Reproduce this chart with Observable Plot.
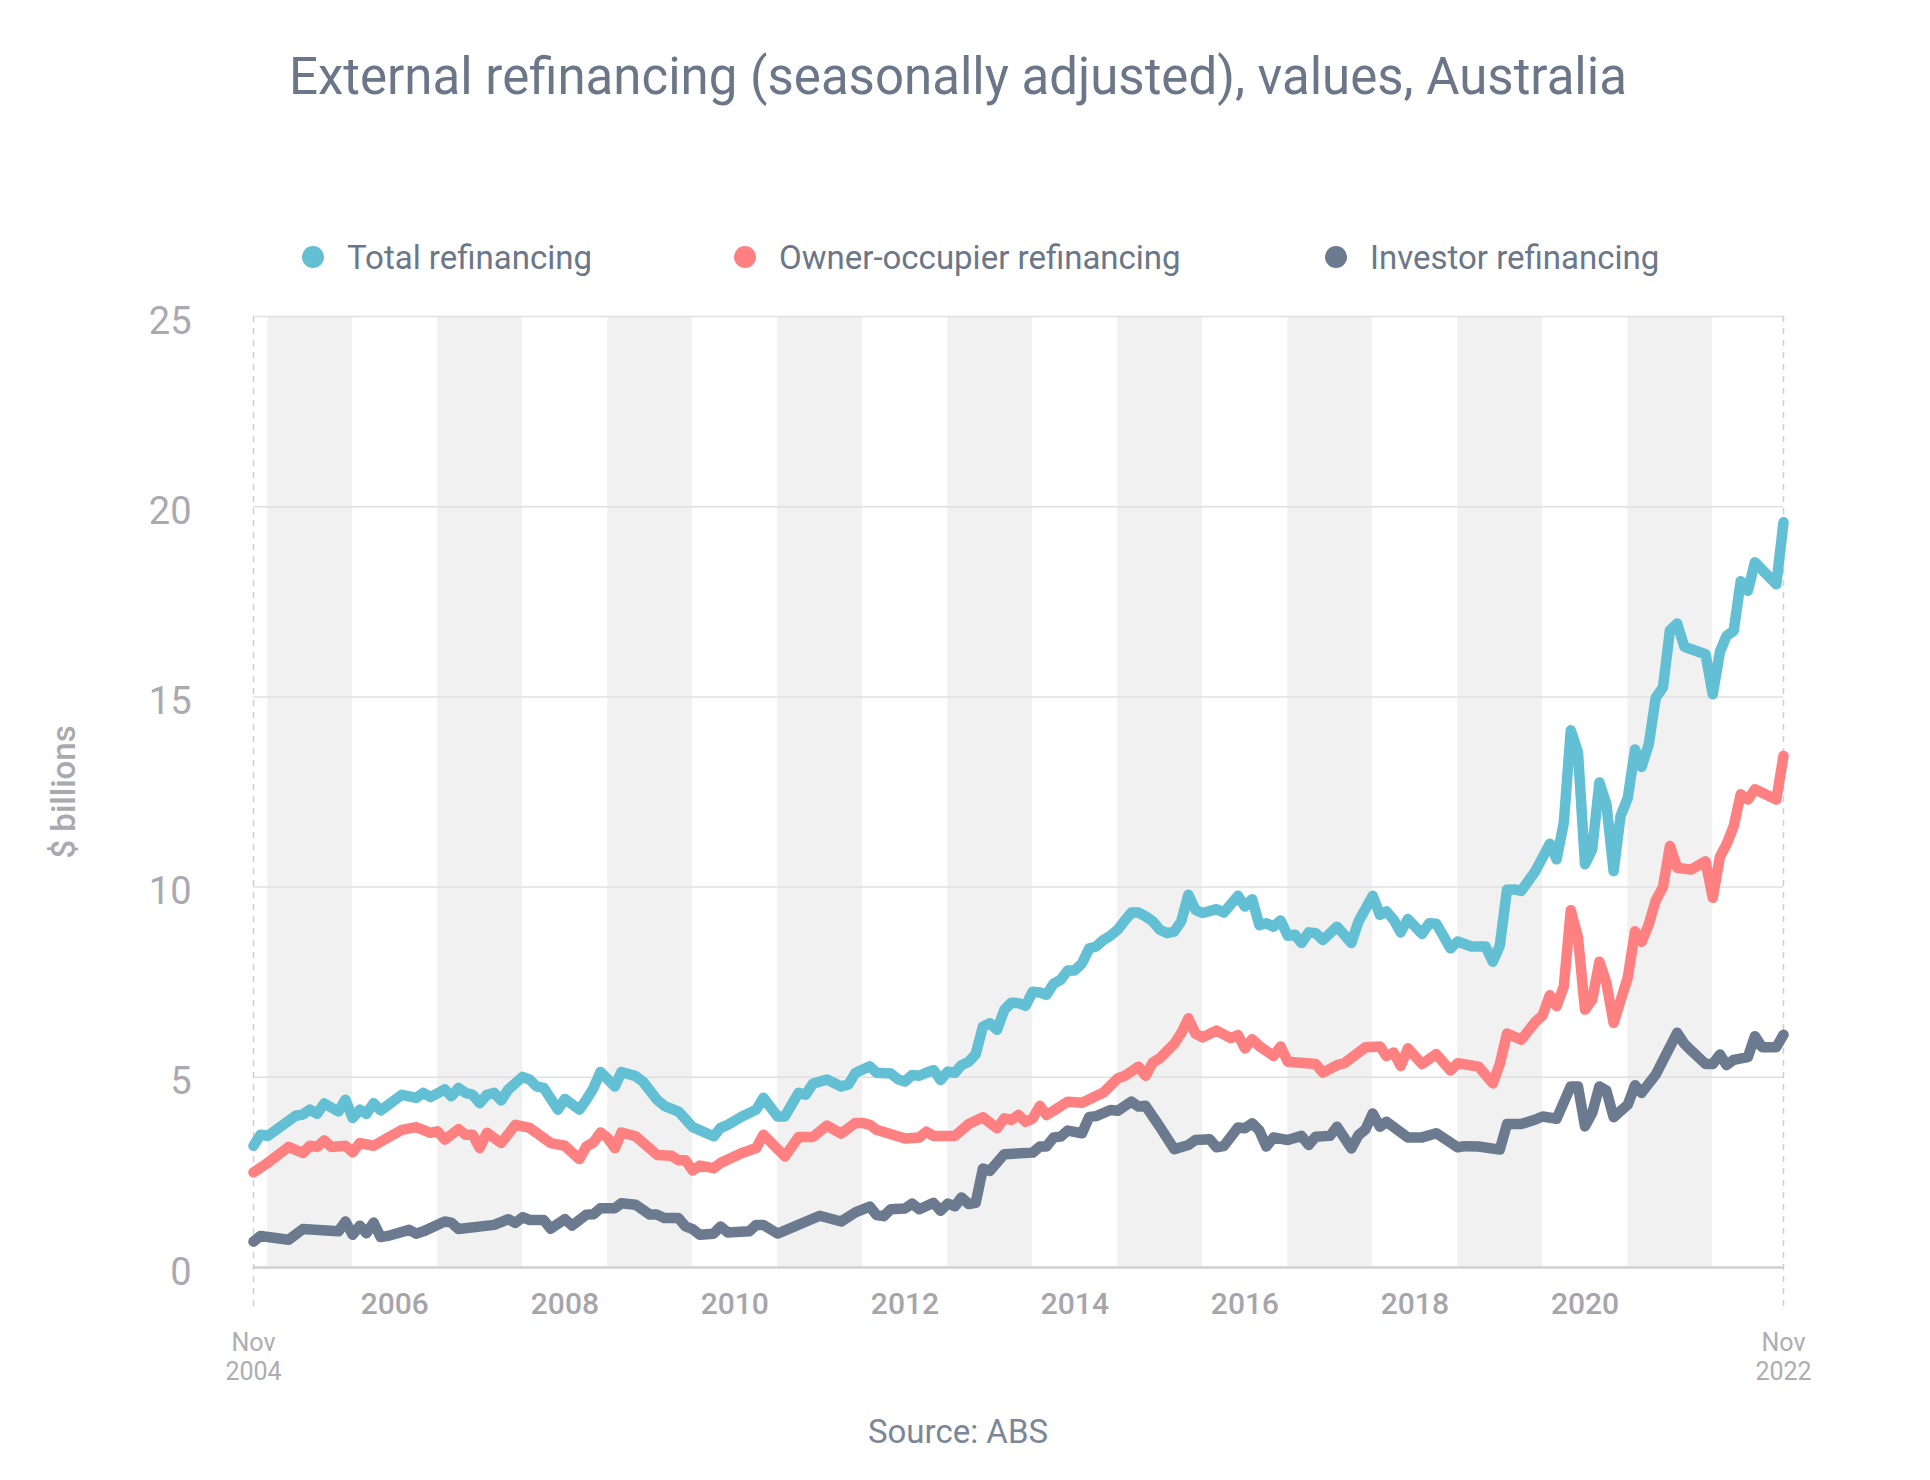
<!DOCTYPE html>
<html>
<head>
<meta charset="utf-8">
<script src="https://cdn.jsdelivr.net/npm/d3@7"></script>
<script src="https://cdn.jsdelivr.net/npm/@observablehq/plot@0.6"></script>
<style>
  body { margin: 0; background: #ffffff; font-family: Roboto, "Noto Sans", sans-serif; }
  #wrap { position: relative; width: 1930px; height: 1480px; overflow: hidden; }
  #title { position: absolute; left: 0; top: 51px; width: 1916px; text-align: center;
           font-size: 51px; line-height: 51px; color: #6b7789; }
  .leg { position: absolute; top: 239px; height: 36px; display: flex; align-items: center;
         font-size: 33px; color: #6b7789; white-space: nowrap; }
  .dot { width: 22px; height: 22px; border-radius: 50%; margin-right: 23px; flex: none; }
  #chart { position: absolute; left: 0; top: 280px; }
  #source { position: absolute; left: 0; top: 1415px; width: 1916px; text-align: center;
            font-size: 33px; line-height: 33px; color: #7b8797; }
</style>
</head>
<body>
<div id="wrap">
  <div id="title"></div>
  <div id="legend"></div>
  <div id="chart"></div>
  <div id="source"></div>
</div>
<script>
// ---------------- data ($ billions) ----------------
const titleText = "External refinancing (seasonally adjusted), values, Australia";
const sourceText = "Source: ABS";
const yAxisLabel = "$ billions";
const seriesNames = ["Total refinancing", "Owner-occupier refinancing", "Investor refinancing"];
const seriesColors = ["#62bfd4", "#ff8080", "#6b7a8f"];
const legendLeft = [302, 734, 1325];

const yTicks = [0, 5, 10, 15, 20, 25];
const yearLabels = [2006, 2008, 2010, 2012, 2014, 2016, 2018, 2020];
const shadedYears = [2005, 2007, 2009, 2011, 2013, 2015, 2017, 2019, 2021];
const axisEnds = ["2004-11", "2022-11"];
const endLabels = ["Nov\n2004", "Nov\n2022"];

const total = [
["2004-11",3.2],["2004-12",3.49],["2005-01",3.46],["2005-05",3.99],["2005-06",4.02],["2005-07",4.15],["2005-08",4.04],["2005-09",4.31],["2005-11",4.1],["2005-12",4.41],
["2006-01",3.93],["2006-02",4.15],["2006-03",4.04],["2006-04",4.32],["2006-05",4.13],["2006-08",4.54],["2006-10",4.46],["2006-11",4.59],["2006-12",4.48],
["2007-02",4.68],["2007-03",4.5],["2007-04",4.72],["2007-05",4.59],["2007-06",4.54],["2007-07",4.32],["2007-08",4.54],["2007-09",4.59],["2007-10",4.39],["2007-11",4.68],
["2008-01",5.01],["2008-02",4.94],["2008-03",4.76],["2008-04",4.72],["2008-06",4.15],["2008-07",4.43],["2008-09",4.15],["2008-10",4.41],["2008-11",4.72],["2008-12",5.14],
["2009-02",4.76],["2009-03",5.14],["2009-05",5.03],["2009-06",4.89],["2009-08",4.41],["2009-09",4.25],["2009-11",4.1],
["2010-01",3.69],["2010-04",3.45],["2010-05",3.67],["2010-06",3.75],["2010-08",3.97],["2010-10",4.15],["2010-11",4.46],
["2011-01",3.97],["2011-02",3.97],["2011-04",4.59],["2011-05",4.54],["2011-06",4.83],["2011-08",4.94],["2011-10",4.76],["2011-11",4.81],["2011-12",5.11],
["2012-02",5.29],["2012-03",5.12],["2012-05",5.1],["2012-06",4.95],["2012-07",4.89],["2012-08",5.06],["2012-09",5.04],["2012-10",5.12],["2012-11",5.19],["2012-12",4.93],
["2013-01",5.15],["2013-02",5.12],["2013-03",5.32],["2013-04",5.41],["2013-05",5.61],["2013-06",6.33],["2013-07",6.42],["2013-08",6.25],["2013-09",6.77],["2013-10",6.96],["2013-11",6.95],["2013-12",6.88],
["2014-01",7.25],["2014-02",7.23],["2014-03",7.17],["2014-04",7.46],["2014-05",7.56],["2014-06",7.81],["2014-07",7.81],["2014-08",8.0],["2014-09",8.39],["2014-10",8.44],["2014-11",8.61],["2014-12",8.72],
["2015-01",8.88],["2015-02",9.12],["2015-03",9.33],["2015-04",9.33],["2015-05",9.23],["2015-06",9.1],["2015-07",8.88],["2015-08",8.79],["2015-09",8.83],["2015-10",9.1],["2015-11",9.8],["2015-12",9.4],
["2016-01",9.32],["2016-03",9.42],["2016-04",9.33],["2016-06",9.77],["2016-07",9.49],["2016-08",9.68],["2016-09",9.0],["2016-10",9.05],["2016-11",8.96],["2016-12",9.12],
["2017-01",8.72],["2017-02",8.75],["2017-03",8.53],["2017-04",8.81],["2017-05",8.79],["2017-06",8.61],["2017-08",8.96],["2017-10",8.53],["2017-11",9.1],
["2018-01",9.77],["2018-02",9.27],["2018-03",9.36],["2018-04",9.14],["2018-05",8.81],["2018-06",9.16],["2018-08",8.77],["2018-09",9.05],["2018-10",9.04],["2018-12",8.39],
["2019-01",8.57],["2019-03",8.44],["2019-05",8.44],["2019-06",8.04],["2019-07",8.46],["2019-08",9.93],["2019-09",9.94],["2019-10",9.9],["2019-12",10.42],
["2020-02",11.14],["2020-03",10.73],["2020-04",11.69],["2020-05",14.12],["2020-06",13.54],["2020-07",10.6],["2020-08",10.99],["2020-09",12.75],["2020-10",12.18],["2020-11",10.42],["2020-12",11.87],
["2021-01",12.35],["2021-02",13.62],["2021-03",13.16],["2021-04",13.75],["2021-05",14.98],["2021-06",15.25],["2021-07",16.75],["2021-08",16.93],["2021-09",16.32],["2021-12",16.12],
["2022-01",15.07],["2022-02",16.19],["2022-03",16.6],["2022-04",16.74],["2022-05",18.04],["2022-06",17.79],["2022-07",18.54],["2022-10",17.96],["2022-11",19.59]
];

const ownerOccupier = [
["2004-11",2.5],["2005-01",2.75],["2005-04",3.17],["2005-06",3.01],["2005-07",3.2],["2005-08",3.17],["2005-09",3.34],["2005-10",3.17],["2005-12",3.2],
["2006-01",3.03],["2006-02",3.27],["2006-04",3.2],["2006-08",3.62],["2006-10",3.69],["2006-12",3.54],
["2007-01",3.58],["2007-02",3.36],["2007-04",3.64],["2007-05",3.49],["2007-06",3.49],["2007-07",3.14],["2007-08",3.54],["2007-10",3.27],["2007-12",3.75],
["2008-02",3.67],["2008-05",3.27],["2008-07",3.2],["2008-09",2.85],["2008-10",3.18],["2008-11",3.29],["2008-12",3.55],
["2009-01",3.4],["2009-02",3.14],["2009-03",3.55],["2009-05",3.45],["2009-08",2.96],["2009-10",2.94],["2009-11",2.82],["2009-12",2.82],
["2010-01",2.55],["2010-02",2.68],["2010-04",2.61],["2010-05",2.75],["2010-08",3.01],["2010-10",3.14],["2010-11",3.49],
["2011-02",2.92],["2011-04",3.43],["2011-06",3.43],["2011-08",3.73],["2011-10",3.52],["2011-12",3.8],
["2012-01",3.8],["2012-02",3.75],["2012-03",3.62],["2012-07",3.39],["2012-09",3.42],["2012-10",3.57],["2012-11",3.46],
["2013-02",3.46],["2013-04",3.77],["2013-06",3.95],["2013-08",3.66],["2013-09",3.92],["2013-10",3.88],["2013-11",4.01],["2013-12",3.83],
["2014-01",3.92],["2014-02",4.25],["2014-03",4.01],["2014-04",4.12],["2014-06",4.36],["2014-08",4.33],["2014-11",4.6],
["2015-01",4.97],["2015-02",5.04],["2015-04",5.28],["2015-05",5.04],["2015-06",5.39],["2015-07",5.5],["2015-09",5.88],["2015-10",6.16],["2015-11",6.55],["2015-12",6.15],
["2016-01",6.05],["2016-03",6.23],["2016-05",6.03],["2016-06",6.11],["2016-07",5.76],["2016-08",6.0],["2016-09",5.82],["2016-11",5.56],["2016-12",5.81],
["2017-01",5.41],["2017-05",5.35],["2017-06",5.12],["2017-08",5.32],["2017-09",5.37],["2017-12",5.79],
["2018-02",5.81],["2018-03",5.56],["2018-04",5.65],["2018-05",5.3],["2018-06",5.76],["2018-08",5.35],["2018-10",5.61],["2018-12",5.18],
["2019-01",5.37],["2019-04",5.28],["2019-06",4.84],["2019-07",5.35],["2019-08",6.15],["2019-10",5.99],["2019-12",6.46],
["2020-01",6.63],["2020-02",7.16],["2020-03",6.87],["2020-04",7.39],["2020-05",9.39],["2020-06",8.67],["2020-07",6.78],["2020-08",7.04],["2020-09",8.04],["2020-10",7.48],["2020-11",6.43],
["2021-01",7.63],["2021-02",8.84],["2021-03",8.56],["2021-04",9.02],["2021-05",9.65],["2021-06",10.0],["2021-07",11.08],["2021-08",10.51],["2021-10",10.46],["2021-12",10.68],
["2022-01",9.72],["2022-02",10.8],["2022-03",11.12],["2022-04",11.6],["2022-05",12.44],["2022-06",12.3],["2022-07",12.57],["2022-10",12.3],["2022-11",13.45]
];

const investor = [
["2004-11",0.68],["2004-12",0.83],["2005-04",0.73],["2005-06",1.01],["2005-11",0.95],["2005-12",1.21],
["2006-01",0.86],["2006-02",1.1],["2006-03",0.9],["2006-04",1.18],["2006-05",0.8],["2006-06",0.83],["2006-09",0.99],["2006-10",0.89],["2006-11",0.95],
["2007-02",1.21],["2007-03",1.18],["2007-04",1.01],["2007-09",1.12],["2007-11",1.27],["2007-12",1.17],
["2008-01",1.32],["2008-02",1.25],["2008-04",1.25],["2008-05",1.02],["2008-07",1.27],["2008-08",1.1],["2008-10",1.39],["2008-11",1.4],["2008-12",1.56],
["2009-02",1.56],["2009-03",1.69],["2009-05",1.65],["2009-07",1.39],["2009-08",1.39],["2009-09",1.3],["2009-11",1.3],["2009-12",1.08],
["2010-01",1.01],["2010-02",0.86],["2010-04",0.89],["2010-05",1.08],["2010-06",0.92],["2010-09",0.95],["2010-10",1.12],["2010-11",1.12],
["2011-01",0.89],["2011-07",1.36],["2011-10",1.21],["2011-12",1.45],
["2012-02",1.6],["2012-03",1.38],["2012-04",1.35],["2012-05",1.53],["2012-07",1.55],["2012-08",1.68],["2012-09",1.53],["2012-11",1.7],["2012-12",1.49],
["2013-01",1.68],["2013-02",1.61],["2013-03",1.84],["2013-04",1.67],["2013-05",1.7],["2013-06",2.6],["2013-07",2.54],["2013-09",2.98],
["2014-01",3.02],["2014-02",3.18],["2014-03",3.18],["2014-04",3.42],["2014-05",3.44],["2014-06",3.6],["2014-08",3.53],["2014-09",3.96],["2014-10",3.98],["2014-12",4.14],
["2015-01",4.12],["2015-03",4.36],["2015-04",4.23],["2015-05",4.25],["2015-07",3.7],["2015-09",3.11],["2015-11",3.22],["2015-12",3.35],
["2016-02",3.37],["2016-03",3.16],["2016-04",3.19],["2016-06",3.68],["2016-07",3.66],["2016-08",3.79],["2016-09",3.6],["2016-10",3.18],["2016-11",3.42],
["2017-01",3.35],["2017-03",3.46],["2017-04",3.22],["2017-05",3.44],["2017-07",3.46],["2017-08",3.7],["2017-10",3.13],["2017-11",3.48],["2017-12",3.63],
["2018-01",4.05],["2018-02",3.7],["2018-03",3.83],["2018-06",3.42],["2018-08",3.42],["2018-10",3.53],
["2019-01",3.16],["2019-02",3.19],["2019-04",3.18],["2019-07",3.1],["2019-08",3.77],["2019-10",3.77],["2019-12",3.89],
["2020-01",3.97],["2020-03",3.91],["2020-05",4.76],["2020-06",4.76],["2020-07",3.71],["2020-08",4.06],["2020-09",4.76],["2020-10",4.65],["2020-11",3.95],
["2021-01",4.28],["2021-02",4.79],["2021-03",4.59],["2021-05",5.07],["2021-08",6.17],["2021-09",5.88],["2021-10",5.7],["2021-12",5.35],
["2022-01",5.35],["2022-02",5.6],["2022-03",5.32],["2022-04",5.46],["2022-06",5.53],["2022-07",6.08],["2022-08",5.79],["2022-10",5.79],["2022-11",6.12]
];

// ---------------- build ----------------
const parse = d3.utcParse("%Y-%m");
const toRows = arr => arr.map(([d, v]) => ({date: parse(d), value: v}));
const seriesData = [total, ownerOccupier, investor].map(toRows);
const ends = axisEnds.map(parse);
const yearStart = y => new Date(Date.UTC(y, 0, 1));
const midYear = y => new Date(Date.UTC(y, 6, 1));

document.getElementById("title").textContent = titleText;
document.getElementById("source").textContent = sourceText;

const legend = document.getElementById("legend");
seriesNames.forEach((name, i) => {
  const item = document.createElement("div");
  item.className = "leg";
  item.style.left = legendLeft[i] + "px";
  const dot = document.createElement("span");
  dot.className = "dot";
  dot.style.background = seriesColors[i];
  const label = document.createElement("span");
  label.textContent = name;
  item.append(dot, label);
  legend.append(item);
});

const chart = Plot.plot({
  width: 1930,
  height: 1115,
  marginTop: 36,
  marginBottom: 128,
  marginLeft: 253,
  marginRight: 147,
  style: {fontFamily: "Roboto, 'Noto Sans', sans-serif", background: "transparent", overflow: "visible"},
  x: {type: "utc", domain: ends},
  y: {domain: [yTicks[0], yTicks[yTicks.length - 1]]},
  marks: [
    Plot.rect(shadedYears, {
      x1: d => yearStart(d), x2: d => yearStart(d + 1),
      y1: () => yTicks[0], y2: () => yTicks[yTicks.length - 1],
      fill: "#f1f1f1"
    }),
    Plot.ruleY(yTicks.slice(1), {stroke: "#e0e0e0", strokeWidth: 1.5}),
    Plot.ruleX(ends, {stroke: "#cfcfcf", strokeWidth: 1.5, strokeDasharray: "6,6", insetBottom: -45}),
    Plot.ruleY([yTicks[0]], {stroke: "#cfd0d0", strokeWidth: 2.5}),
    Plot.axisY(yTicks, {
      tickSize: 0, tickPadding: 62, fontSize: 38, color: "#a9a9af", label: null, dy: 5
    }),
    Plot.axisX(yearLabels.map(midYear), {
      tickSize: 0, tickPadding: 25, tickFormat: d3.utcFormat("%Y"),
      fontSize: 30, fontWeight: 500, color: "#a5a5ab", label: null
    }),
    Plot.text(ends, {
      x: d => d, text: (d, i) => endLabels[i], frameAnchor: "bottom", lineAnchor: "top",
      dy: 63, fontSize: 25, lineHeight: 1.16, fill: "#adadb2"
    }),
    ...seriesData.map((rows, i) => Plot.line(rows, {
      x: "date", y: "value", stroke: seriesColors[i], strokeWidth: 10.5,
      strokeLinejoin: "round", strokeLinecap: "round"
    })),
    Plot.text([yAxisLabel], {
      frameAnchor: "left", textAnchor: "middle", rotate: -90, dx: -189,
      fontSize: 33, fontWeight: 500, fill: "#a9a9af"
    })
  ]
});
document.getElementById("chart").append(chart);
</script>
</body>
</html>
